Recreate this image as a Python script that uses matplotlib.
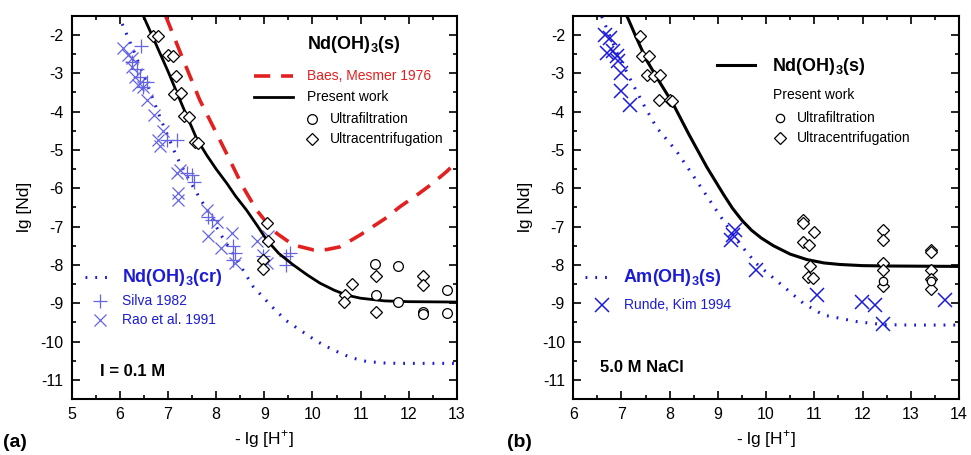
import matplotlib
matplotlib.use("Agg")
import matplotlib.pyplot as plt
from matplotlib.ticker import MultipleLocator

plt.rcParams['font.family'] = ['Liberation Sans', 'DejaVu Sans']
plt.rcParams['axes.unicode_minus'] = False
plt.rcParams['mathtext.fontset'] = 'custom'
plt.rcParams['mathtext.rm'] = 'Liberation Sans'
plt.rcParams['mathtext.bf'] = 'Liberation Sans:bold'

# ---------------- panel (a): I = 0.1 M ----------------
a_present_x = [6.45, 6.7, 7.0, 7.3, 7.6, 7.8, 8.0, 8.22, 8.4, 8.63, 8.85, 9.05, 9.3, 9.6, 9.9, 10.16, 10.45, 10.71, 11.0, 11.5, 12.0, 13.0]
a_present_y = [-1.4, -2.1, -2.95, -3.85, -4.72, -5.13, -5.5, -5.87, -6.2, -6.57, -6.97, -7.35, -7.7, -8.0, -8.27, -8.48, -8.66, -8.79, -8.87, -8.94, -8.96, -8.97]

a_baes_x = [6.95, 7.3, 7.66, 8.0, 8.25, 8.55, 8.84, 9.05, 9.26, 9.6, 10.02, 10.3, 10.57, 10.99, 11.5, 11.82, 12.2, 12.5, 12.8, 13.0]
a_baes_y = [-1.5, -2.6, -3.7, -4.55, -5.18, -5.95, -6.57, -6.9, -7.18, -7.48, -7.61, -7.6, -7.53, -7.22, -6.8, -6.48, -6.15, -5.87, -5.55, -5.3]

a_cr_x = [5.97, 6.3, 6.56, 6.85, 7.18, 7.4, 7.6, 7.85, 8.08, 8.43, 8.77, 9.19, 9.45, 9.74, 10.1, 10.43, 10.8, 11.12, 11.5, 11.82, 12.4, 12.95]
a_cr_y = [-1.48, -2.45, -3.26, -4.2, -5.18, -5.7, -6.13, -6.65, -7.18, -7.87, -8.57, -9.13, -9.45, -9.7, -10.0, -10.22, -10.42, -10.52, -10.56, -10.57, -10.57, -10.57]

a_uc_x = [6.68, 6.80, 6.99, 7.10, 7.16, 7.12, 7.28, 7.34, 7.43, 7.57, 7.63, 9.05, 9.07, 8.97, 8.98, 10.67, 10.66, 10.83, 11.31, 11.31, 12.3, 12.3]
a_uc_y = [-2.02, -2.02, -2.52, -2.55, -3.07, -3.55, -3.52, -4.11, -4.13, -4.8, -4.83, -6.91, -7.37, -7.87, -8.11, -8.78, -8.97, -8.5, -8.3, -9.22, -8.3, -8.52]

a_uf_x = [11.30, 11.31, 11.78, 11.78, 12.3, 12.3, 12.80, 12.80]
a_uf_y = [-7.98, -8.79, -8.04, -8.96, -9.22, -9.28, -8.65, -9.26]

silva_x = [6.45, 6.25, 6.35, 6.42, 6.49, 6.56, 6.97, 7.18, 7.39, 7.49, 7.53, 7.84, 7.91, 8.36, 8.39, 8.36, 9.46, 9.46, 9.53, 8.98]
silva_y = [-2.3, -2.7, -2.9, -3.09, -3.35, -3.22, -4.74, -4.74, -5.61, -5.65, -5.83, -6.74, -6.83, -7.52, -7.7, -7.87, -7.78, -8.0, -7.7, -7.78]

rao_x = [6.07, 6.17, 6.25, 6.32, 6.25, 6.38, 6.49, 6.56, 6.70, 6.9, 6.80, 6.83, 7.25, 7.18, 7.21, 7.21, 7.80, 8.01, 7.84, 8.11, 8.32, 8.39, 8.84, 8.98, 9.05, 9.08]
rao_y = [-2.35, -2.52, -2.83, -3.09, -2.61, -3.3, -3.35, -3.7, -4.09, -4.52, -4.74, -4.91, -5.52, -5.61, -6.13, -6.3, -6.57, -6.87, -7.26, -7.57, -7.17, -7.96, -7.39, -7.74, -7.96, -7.26]

# ---------------- panel (b): 5.0 M NaCl ----------------
b_present_x = [7.11, 7.3, 7.52, 7.8, 8.07, 8.4, 8.77, 9.11, 9.3, 9.5, 9.7, 9.9, 10.15, 10.5, 10.84, 11.2, 11.53, 12.0, 12.57, 14.0]
b_present_y = [-1.5, -2.05, -2.66, -3.25, -3.8, -4.6, -5.45, -6.15, -6.52, -6.84, -7.1, -7.3, -7.5, -7.72, -7.86, -7.95, -7.99, -8.02, -8.03, -8.04]

b_am_x = [6.59, 6.9, 7.2, 7.45, 7.73, 8.14, 8.56, 8.97, 9.39, 9.8, 10.29, 10.77, 11.19, 11.88, 12.43, 13.0, 14.0]
b_am_y = [-1.52, -2.45, -3.2, -3.8, -4.42, -5.03, -5.81, -6.58, -7.36, -7.97, -8.49, -9.0, -9.31, -9.48, -9.56, -9.57, -9.57]

b_uc_x = [7.38, 7.42, 7.58, 7.52, 7.68, 7.80, 7.78, 8.0, 8.04, 10.77, 10.77, 10.99, 10.77, 10.88, 10.9, 10.87, 10.97, 12.43, 12.43, 12.43, 12.43, 12.43, 13.43, 13.43, 13.43, 13.43, 13.43]
b_uc_y = [-2.03, -2.56, -2.55, -3.04, -3.08, -3.04, -3.7, -3.7, -3.73, -6.84, -6.91, -7.13, -7.41, -7.48, -8.02, -8.32, -8.34, -7.1, -7.36, -7.95, -8.14, -8.56, -7.62, -7.67, -8.14, -8.38, -8.62]

b_uf_x = [12.43, 13.43]
b_uf_y = [-8.43, -8.42]

runde_x = [6.66, 6.76, 6.69, 6.83, 6.9, 6.93, 7.0, 7.0, 7.18, 9.32, 9.28, 9.35, 9.8, 11.05, 11.98, 12.26, 12.43, 13.71]
runde_y = [-2.0, -2.09, -2.48, -2.43, -2.56, -2.69, -3.0, -3.47, -3.82, -7.23, -7.36, -7.1, -8.14, -8.79, -8.96, -9.05, -9.53, -8.92]

BLUE = '#1c1cd6'
LBLUE = '#6464e4'
RED = '#e32020'
DOTS = (0, (0.6, 2.6))
DASH = (0, (4.5, 3))

fig = plt.figure(figsize=(9.71, 4.55), dpi=100)
axa = fig.add_axes([0.0738, 0.123, 0.3968, 0.8425])
axb = fig.add_axes([0.5904, 0.123, 0.3972, 0.8425])


def style_axes(ax, xlim):
    ax.set_xlim(*xlim)
    ax.set_ylim(-11.5, -1.5)
    ax.xaxis.set_major_locator(MultipleLocator(1))
    ax.xaxis.set_minor_locator(MultipleLocator(0.5))
    ax.yaxis.set_major_locator(MultipleLocator(1))
    ax.yaxis.set_minor_locator(MultipleLocator(0.5))
    ax.tick_params(which='both', direction='in', top=True, right=True, width=1.2)
    ax.tick_params(which='major', length=6, labelsize=11.5, pad=6)
    ax.tick_params(which='minor', length=3)
    for s in ax.spines.values():
        s.set_linewidth(1.5)
    ax.set_xlabel('- lg [H$^{+}$]', fontsize=12.5, labelpad=4)
    ax.set_ylabel('lg [Nd]', fontsize=12.5, labelpad=6)


def key_line(ax, x0, x1, y, **kw):
    ax.plot([x0, x1], [y, y], transform=ax.transAxes, clip_on=False, **kw)


def key_mark(ax, x, y, **kw):
    ax.plot([x], [y], transform=ax.transAxes, clip_on=False, linestyle='none', **kw)


def key_text(ax, x, y, s, **kw):
    ax.text(x, y, s, transform=ax.transAxes, ha='left', va='center', **kw)


open_mk = dict(mfc='white', mec='black', mew=0.9, linestyle='none')

# ---- panel (a)
ax = axa
ax.plot(a_cr_x, a_cr_y, color=BLUE, lw=2.2, linestyle=DOTS, dash_capstyle='butt')
ax.plot(silva_x, silva_y, '+', color=LBLUE, ms=10, mew=0.9)
ax.plot(rao_x, rao_y, 'x', color=LBLUE, ms=9, mew=0.9)
ax.plot(a_baes_x, a_baes_y, color=RED, lw=2.6, linestyle=DASH)
ax.plot(a_present_x, a_present_y, color='black', lw=2.0)
ax.plot(a_uc_x, a_uc_y, 'D', ms=6, **open_mk)
ax.plot(a_uf_x, a_uf_y, 'o', ms=7, **open_mk)
style_axes(ax, (5, 13))

key_text(ax, 0.611, 0.924, 'Nd(OH)$_\\mathbf{3}$(s)', fontsize=13, fontweight='bold')
key_line(ax, 0.473, 0.574, 0.843, color=RED, lw=2.6, linestyle=DASH)
key_text(ax, 0.611, 0.843, 'Baes, Mesmer 1976', fontsize=10, color=RED)
key_line(ax, 0.473, 0.574, 0.788, color='black', lw=2.0)
key_text(ax, 0.611, 0.788, 'Present work', fontsize=10)
key_mark(ax, 0.624, 0.730, marker='o', ms=7, mfc='white', mec='black', mew=0.9)
key_text(ax, 0.670, 0.730, 'Ultrafiltration', fontsize=10)
key_mark(ax, 0.624, 0.678, marker='D', ms=6, mfc='white', mec='black', mew=0.9)
key_text(ax, 0.670, 0.678, 'Ultracentrifugation', fontsize=10)

key_line(ax, 0.035, 0.094, 0.318, color=BLUE, lw=2.2, linestyle=DOTS)
key_text(ax, 0.131, 0.318, 'Nd(OH)$_\\mathbf{3}$(cr)', fontsize=13, fontweight='bold', color=BLUE)
key_mark(ax, 0.074, 0.256, marker='+', ms=10, mew=0.9, color=LBLUE)
key_text(ax, 0.131, 0.256, 'Silva 1982', fontsize=10, color=BLUE)
key_mark(ax, 0.074, 0.206, marker='x', ms=9, mew=0.9, color=LBLUE)
key_text(ax, 0.131, 0.206, 'Rao et al. 1991', fontsize=10, color=BLUE)
key_text(ax, 0.074, 0.073, 'I = 0.1 M', fontsize=12, fontweight='bold')

# ---- panel (b)
ax = axb
ax.plot(b_am_x, b_am_y, color=BLUE, lw=2.2, linestyle=DOTS, dash_capstyle='butt')
ax.plot(runde_x, runde_y, 'x', color=BLUE, ms=10, mew=1.1)
ax.plot(b_present_x, b_present_y, color='black', lw=2.2)
ax.plot(b_uc_x, b_uc_y, 'D', ms=6, **open_mk)
ax.plot(b_uf_x, b_uf_y, 'o', ms=6, **open_mk)
style_axes(ax, (6, 14))

key_line(ax, 0.372, 0.471, 0.871, color='black', lw=2.2)
key_text(ax, 0.515, 0.868, 'Nd(OH)$_\\mathbf{3}$(s)', fontsize=13, fontweight='bold')
key_text(ax, 0.518, 0.793, 'Present work', fontsize=10)
key_mark(ax, 0.536, 0.733, marker='o', ms=6, mfc='white', mec='black', mew=0.9)
key_text(ax, 0.580, 0.733, 'Ultrafiltration', fontsize=10)
key_mark(ax, 0.536, 0.681, marker='D', ms=6, mfc='white', mec='black', mew=0.9)
key_text(ax, 0.580, 0.681, 'Ultracentrifugation', fontsize=10)

key_line(ax, 0.030, 0.095, 0.318, color=BLUE, lw=2.2, linestyle=DOTS)
key_text(ax, 0.128, 0.318, 'Am(OH)$_\\mathbf{3}$(s)', fontsize=13, fontweight='bold', color=BLUE)
key_mark(ax, 0.074, 0.245, marker='x', ms=10, mew=1.1, color=BLUE)
key_text(ax, 0.131, 0.245, 'Runde, Kim 1994', fontsize=10, color=BLUE)
key_text(ax, 0.070, 0.083, '5.0 M NaCl', fontsize=12, fontweight='bold')

fig.text(0.003, 0.027, '(a)', fontsize=14, fontweight='bold', va='center')
fig.text(0.522, 0.027, '(b)', fontsize=14, fontweight='bold', va='center')

fig.savefig('out.png', dpi=100)
